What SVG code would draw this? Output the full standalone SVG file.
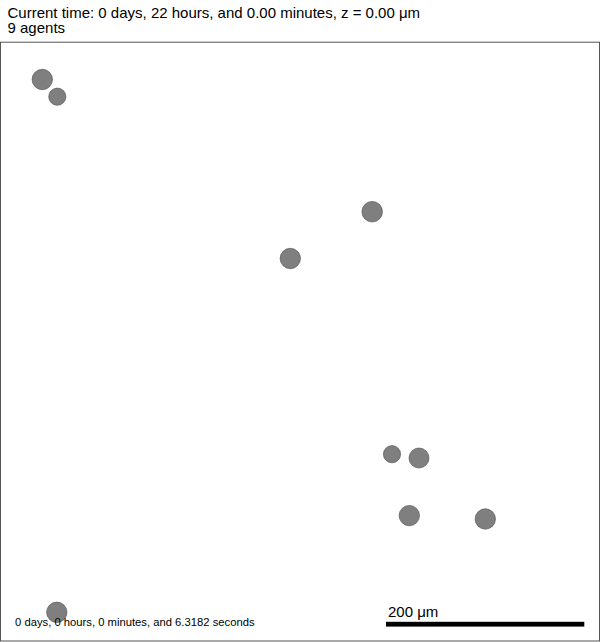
<svg xmlns="http://www.w3.org/2000/svg" width="600" height="642" viewBox="0 0 600 642">
<style>
text{font-family:"Liberation Sans",Arial,sans-serif;fill:#000}
.cell{fill:#7f7f7f;stroke:#4a4a4a;stroke-width:0.6}
</style>
<rect x="0" y="0" width="600" height="642" fill="#fff"/>
<text x="7.5" y="18" font-size="15">Current time: 0 days, 22 hours, and 0.00 minutes, z = 0.00 μm</text>
<text x="7.5" y="33.3" font-size="15">9 agents</text>
<rect id="domain" x="0.5" y="42.2" width="599" height="598.8" fill="none" stroke="#555" stroke-width="1"/>
<g id="agents">
<circle id="a1" class="cell" cx="42.3" cy="79.5" r="10.2"/>
<circle id="a2" class="cell" cx="57.3" cy="96.7" r="8.6"/>
<circle id="a3" class="cell" cx="372.2" cy="211.7" r="10.3"/>
<circle id="a4" class="cell" cx="290.3" cy="258.5" r="10.2"/>
<circle id="a5" class="cell" cx="392" cy="454.2" r="8.6"/>
<circle id="a6" class="cell" cx="419" cy="458" r="10"/>
<circle id="a7" class="cell" cx="409.3" cy="515.6" r="10.2"/>
<circle id="a8" class="cell" cx="485.3" cy="519" r="10.2"/>
<circle id="a9" class="cell" cx="56.8" cy="612.3" r="10.2"/>
</g>
<text x="15" y="626.3" font-size="11.25">0 days, 0 hours, 0 minutes, and 6.3182 seconds</text>
<g id="scalebar">
<rect x="386" y="621.8" width="198.3" height="4.8" fill="#000"/>
<text x="388" y="617" font-size="15">200 μm</text>
</g>
</svg>
